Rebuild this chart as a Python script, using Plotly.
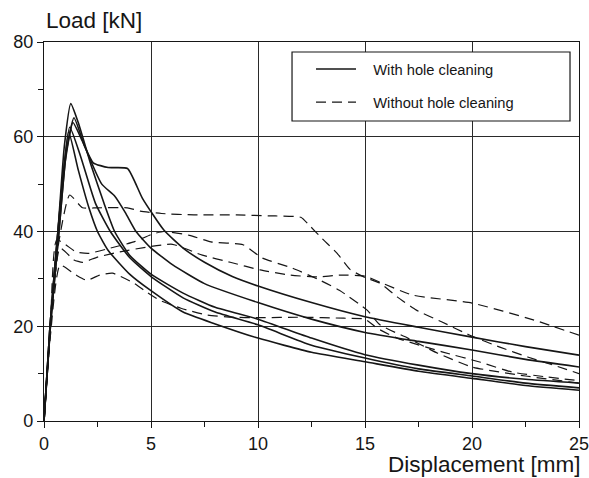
import plotly.graph_objects as go

# ---- data (displacement [mm], load [kN]) ----
with_1_x = [0, 0.3, 0.7, 1.0, 1.35, 1.8, 2.3, 3.0, 3.9, 4.6, 5.6, 6.5, 7.5, 8.8, 10, 12.5, 15, 17.5, 20, 22.5, 25]
with_1_y = [0, 20, 40, 55, 63, 59, 54.5, 53.5, 53.3, 47, 40.3, 36.5, 33.5, 30.5, 28.5, 25, 22, 19.8, 17.7, 15.7, 13.9]

with_2_x = [0, 0.3, 0.7, 1.05, 1.4, 1.9, 2.7, 3.3, 3.8, 4.3, 5, 6, 7.5, 10, 12.5, 15, 17.5, 20, 22.5, 25]
with_2_y = [0, 20, 40, 57, 64, 58, 50, 47.5, 44, 40, 36.5, 33, 29, 25, 21.5, 18.7, 16.8, 15, 13, 11.4]

with_3_x = [0, 0.28, 0.65, 0.95, 1.25, 1.6, 2.2, 2.8, 3.3, 4, 5, 6.5, 8, 10, 12.5, 15, 17.5, 20, 22.5, 25]
with_3_y = [0, 20, 40, 58, 67, 63, 54, 46, 40, 35, 31, 27, 24, 21.5, 17.5, 14, 11.8, 10, 8.8, 8]

with_4_x = [0, 0.28, 0.65, 1.2, 1.7, 2.4, 3.1, 4, 5, 6.5, 8, 10, 12.5, 15, 17.5, 20, 22.5, 25]
with_4_y = [0, 20, 40, 62, 56, 46, 40, 34.5, 30.5, 26, 23, 20.3, 16, 13.3, 11, 9.5, 8, 7]

with_5_x = [0, 0.28, 0.65, 1.15, 1.6, 2.1, 2.5, 3, 4, 5, 6.5, 8, 10, 12.5, 15, 17.5, 20, 22.5, 25]
with_5_y = [0, 20, 40, 61, 53, 45, 40, 36, 31, 27.5, 23, 20.5, 17.5, 14.5, 12.5, 10.5, 9, 7.5, 6.5]

without_1_x = [0, 0.3, 0.7, 1.2, 1.8, 2.5, 3.9, 4.5, 5.5, 7, 9, 10.5, 12, 12.4, 13, 13.7, 14.3, 15, 15.7, 16.5, 17.4, 18.6, 19.9, 21.3, 22.6, 24, 25]
without_1_y = [0, 20, 38, 47.7, 45, 45, 45, 44.3, 43.8, 43.5, 43.5, 43.3, 43, 41.3, 38.5, 35.4, 32, 30.3, 29.1, 26.2, 23.4, 20.9, 18.1, 15.6, 13.5, 11.5, 10]

without_2_x = [0, 0.3, 0.6, 1.5, 2.1, 3.1, 4.2, 5.1, 5.6, 6.8, 7.8, 9.3, 10.2, 11.6, 12.9, 13.8, 15.1, 15.7, 17, 18.4, 20, 22.5, 25]
without_2_y = [0, 20, 38.2, 35.7, 35.4, 36.5, 37.8, 39.5, 40, 39.2, 37.8, 37.2, 34.4, 32.3, 29.7, 27.6, 23.4, 20.3, 17.5, 14.3, 11.4, 9.5, 8]

without_3_x = [0, 0.3, 0.75, 1.4, 1.8, 2.5, 3.55, 4.8, 6, 7.4, 8.7, 10.1, 11.5, 12.8, 13.8, 15, 15.7, 17.2, 20, 22.9, 25]
without_3_y = [0, 20, 36.5, 34, 33.5, 34.6, 35.7, 36.7, 37.3, 35, 33.5, 31.9, 30.8, 30.4, 30.8, 30.6, 29.3, 26.6, 24.9, 21.3, 18.1]

without_4_x = [0, 0.3, 0.75, 1.5, 2, 2.6, 3.2, 4.2, 4.8, 5.4, 6.4, 7.6, 8.8, 10, 12, 14, 15, 15.6, 16.5, 18.6, 20.4, 21.9, 23.5, 25]
without_4_y = [0, 18, 32.9, 30.8, 29.7, 30.8, 31.2, 29.1, 27.2, 25.5, 23.8, 22.4, 21.9, 21.8, 21.9, 21.7, 21.5, 19.5, 17.5, 14.6, 12.4, 10.3, 9.3, 8.5]

with_series = [(with_1_x, with_1_y), (with_2_x, with_2_y), (with_3_x, with_3_y),
               (with_4_x, with_4_y), (with_5_x, with_5_y)]
without_series = [(without_1_x, without_1_y), (without_2_x, without_2_y),
                  (without_3_x, without_3_y), (without_4_x, without_4_y)]

x_ticks = [0, 5, 10, 15, 20, 25]
y_ticks = [0, 20, 40, 60, 80]

INK = "#161616"
FONT = "Liberation Sans, Arial, sans-serif"
PAD = "\u00a0\u00a0\u00a0"

fig = go.Figure()
for i, (xs, ys) in enumerate(with_series):
    fig.add_trace(go.Scatter(
        x=xs, y=ys, mode="lines", name=PAD + "With hole cleaning",
        legendgroup="with", showlegend=(i == 0),
        line=dict(color=INK, width=1.6, shape="spline", smoothing=0.5)))
for i, (xs, ys) in enumerate(without_series):
    fig.add_trace(go.Scatter(
        x=xs, y=ys, mode="lines", name=PAD + "Without hole cleaning",
        legendgroup="without", showlegend=(i == 0),
        line=dict(color=INK, width=1.2, dash="10px,6px", shape="spline", smoothing=0.5)))

axis_common = dict(
    showline=True, linecolor=INK, linewidth=1.3, mirror=True,
    showgrid=True, gridcolor="#2a2a2a", gridwidth=1,
    zeroline=False, ticks="outside", ticklen=6, tickcolor=INK, tickwidth=1,
    tickfont=dict(family=FONT, size=18, color=INK),
    ticklabeloverflow="allow", automargin=False,
)

fig.update_xaxes(range=[0, 25], tickvals=x_ticks, ticktext=[str(v) for v in x_ticks],
                 minor=dict(tickvals=[2.5, 7.5, 12.5, 17.5, 22.5], ticks="outside",
                            ticklen=5, tickcolor=INK, showgrid=False),
                 **axis_common)
fig.update_yaxes(range=[0, 80], tickvals=y_ticks, ticktext=[str(v) for v in y_ticks],
                 minor=dict(tickvals=[10, 30, 50, 70], ticks="outside",
                            ticklen=5, tickcolor=INK, showgrid=False),
                 **axis_common)

# legend frame
fig.add_shape(type="rect", xref="paper", yref="paper",
              x0=0.4636, x1=0.9832, y0=0.7916, y1=0.9736,
              line=dict(color=INK, width=1.2), fillcolor="white", layer="above")

fig.update_layout(
    width=589, height=478,
    margin=dict(l=44, r=10, t=42, b=57, autoexpand=False),
    paper_bgcolor="white", plot_bgcolor="white",
    font=dict(family=FONT, color=INK),
    legend=dict(x=0.4991, y=0.9710, xanchor="left", yanchor="top",
                bgcolor="rgba(0,0,0,0)", borderwidth=0,
                font=dict(family=FONT, size=14.7, color=INK),
                traceorder="grouped", tracegroupgap=11, itemwidth=40),
    annotations=[
        dict(text="Load [kN]", xref="paper", yref="paper", x=0.0, y=1.0,
             xanchor="left", yanchor="bottom", yshift=7, showarrow=False,
             font=dict(family=FONT, size=22.5, color=INK)),
        dict(text="Displacement [mm]", xref="paper", yref="paper", x=1.0, y=0.0,
             xanchor="right", yanchor="top", yshift=-29, xshift=4, showarrow=False,
             font=dict(family=FONT, size=22.5, color=INK)),
    ],
)

fig.write_html("out.html")
